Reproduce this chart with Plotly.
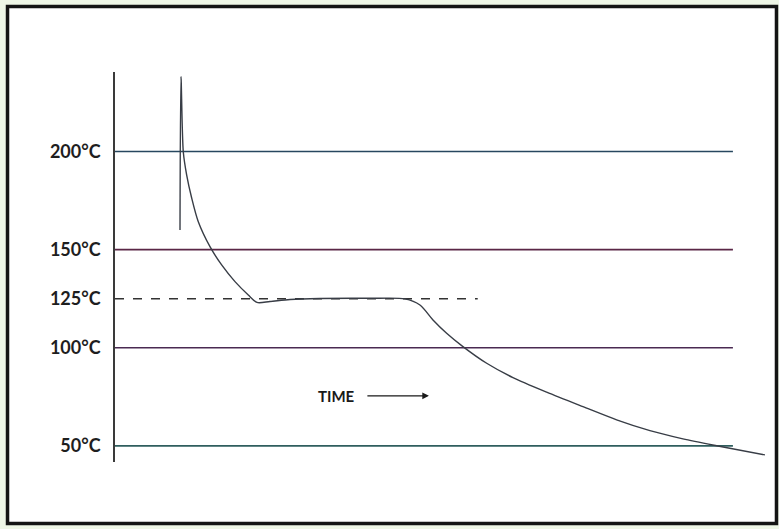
import plotly.graph_objects as go

# ---- data (time in arbitrary units, temperature in °C) ----
curve_time = [10.52, 10.68, 11.05, 11.60, 12.41, 13.48, 15.37, 17.26, 19.42, 21.57,
              22.98, 25.08, 28.32, 33.17, 41.26, 46.93, 49.35, 51.46, 53.67, 56.31,
              60.15, 64.40, 69.85, 75.73, 81.18, 86.57, 91.91, 97.36, 105.18]
curve_temp = [160.0, 238.2, 199.9, 188.0, 176.3, 164.2, 151.5, 142.2, 133.7, 126.9,
              123.1, 123.6, 124.6, 125.1, 125.2, 124.9, 121.8, 114.2, 107.4, 100.6,
              92.1, 84.8, 77.4, 70.0, 63.3, 57.8, 53.6, 50.1, 45.4]

ref_temps = [200, 150, 125, 100, 50]
ref_end_time = [100, 100, 58.7, 100, 100]
ref_colors = ["#27475f", "#5a2646", "#333333", "#4a2a52", "#2f5e5e"]
ref_dash = ["solid", "solid", "dash", "solid", "solid"]
tick_labels = ["200°C", "150°C", "125°C", "100°C", "50°C"]

time_label = "TIME"
time_label_pos = (35.9, 75.5)
arrow_tail = (40.6, 75.5)
arrow_head = (50.8, 75.5)

x_range = [0, 106]
y_range = [41.8, 240.5]

fig = go.Figure()

for T, te, c, d in zip(ref_temps, ref_end_time, ref_colors, ref_dash):
    fig.add_trace(go.Scatter(x=[0, te], y=[T, T], mode="lines",
                             line=dict(color=c, width=1.6, dash=d),
                             hoverinfo="skip", showlegend=False))

fig.add_trace(go.Scatter(x=curve_time, y=curve_temp, mode="lines",
                         line=dict(color="#383d46", width=1.4, shape="spline", smoothing=0.8),
                         showlegend=False))

fig.add_annotation(x=time_label_pos[0], y=time_label_pos[1], text="<b>" + time_label + "</b>",
                   showarrow=False, xref="x", yref="y",
                   font=dict(family="Lato, Open Sans, sans-serif", size=15, color="#1a1a1a"))
fig.add_annotation(x=arrow_head[0], y=arrow_head[1], ax=arrow_tail[0], ay=arrow_tail[1],
                   xref="x", yref="y", axref="x", ayref="y", text="",
                   showarrow=True, arrowhead=2, arrowsize=1.1, arrowwidth=1.2,
                   arrowcolor="#1a1a1a")

# frame
fig.add_shape(type="rect", xref="paper", yref="paper",
              x0=-0.1641, x1=1.0099, y0=-0.1577, y1=1.1679,
              line=dict(color="#141414", width=3.5), fillcolor="white", layer="below")

fig.update_layout(
    width=779, height=529,
    margin=dict(l=115, r=9, t=72, b=67),
    paper_bgcolor="#eef6e6",
    plot_bgcolor="rgba(0,0,0,0)",
    xaxis=dict(range=x_range, visible=False, showgrid=False, zeroline=False),
    yaxis=dict(range=y_range, showgrid=False, zeroline=False,
               showline=True, linecolor="#3a3a3a", linewidth=1.5,
               tickvals=ref_temps, ticktext=tick_labels, ticks="",
               ticklabelstandoff=9,
               tickfont=dict(family="Lato, Open Sans, sans-serif", size=18,
                             color="#1e1e1e", weight="bold")),
)

fig.write_html("out.html", config={"displayModeBar": False},
               post_script="document.body.style.margin='0px';document.body.style.overflow='hidden';")
